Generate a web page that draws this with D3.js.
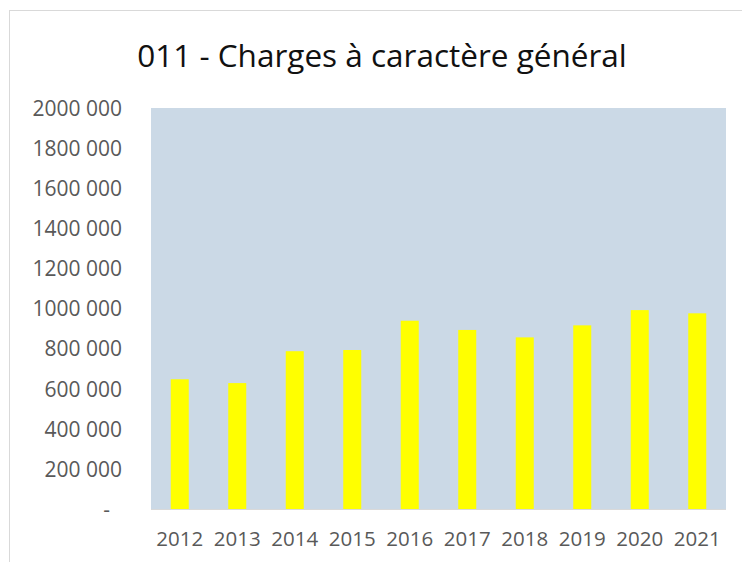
<!DOCTYPE html>
<html>
<head>
<meta charset="utf-8">
<script src="https://cdn.jsdelivr.net/npm/d3@7"></script>
<style>
  html, body { margin: 0; padding: 0; background: #fff; }
  svg { display: block; }
  text { font-family: "Open Sans", "Noto Sans", sans-serif; }
</style>
</head>
<body>
<svg id="chart" width="742" height="562"></svg>
<script>
const title = "011 - Charges à caractère général";
const years = ["2012","2013","2014","2015","2016","2017","2018","2019","2020","2021"];
const values = [647000, 628000, 787000, 793000, 939000, 893000, 856000, 916000, 992000, 976000];
const yTicks = [0, 200000, 400000, 600000, 800000, 1000000, 1200000, 1400000, 1600000, 1800000, 2000000];

const svg = d3.select("#chart");
const plot = {left: 151, top: 108, right: 726, bottom: 509};

// outer border
svg.append("rect")
  .attr("x", 9.5).attr("y", 10.5)
  .attr("width", 800).attr("height", 600)
  .attr("fill", "#fff").attr("stroke", "#d9d9d9").attr("stroke-width", 1);

// title
svg.append("text")
  .attr("x", 382).attr("y", 67)
  .attr("text-anchor", "middle")
  .attr("font-size", 31.5)
  .attr("fill", "#111")
  .text(title);

const x = d3.scaleBand().domain(years).range([plot.left, plot.right]).paddingInner(0.687).paddingOuter(0.3435);
const y = d3.scaleLinear().domain([0, 2000000]).range([plot.bottom, plot.top]);

// plot background
svg.append("rect")
  .attr("x", plot.left).attr("y", plot.top)
  .attr("width", plot.right - plot.left).attr("height", plot.bottom - plot.top)
  .attr("fill", "#cbd9e6");

// bars
svg.append("g").selectAll("rect").data(years).join("rect")
  .attr("x", d => x(d))
  .attr("width", x.bandwidth())
  .attr("y", (d, i) => y(values[i]))
  .attr("height", (d, i) => y(0) - y(values[i]))
  .attr("fill", "#ffff00");

// baseline
svg.append("line")
  .attr("x1", plot.left).attr("x2", plot.right)
  .attr("y1", y(0) + 0.5).attr("y2", y(0) + 0.5)
  .attr("stroke", "#d9d9d9").attr("stroke-width", 1);

// y axis
const fmt = v => v === 0 ? "-" : d3.format(",")(v).replace(/,(?=\d{3}$)/, " ").replace(/,/g, "");
const yAxis = d3.axisLeft(y).tickValues(yTicks).tickSize(0).tickPadding(0).tickFormat(fmt);
const gy = svg.append("g").attr("transform", "translate(122,0)").call(yAxis);
gy.select(".domain").remove();
gy.selectAll("text")
  .attr("font-size", 21).attr("fill", "#595959")
  .attr("font-family", "'Open Sans', sans-serif")
  .attr("dy", "0.35em")
  .attr("x", d => d === 0 ? -12 : 0);

// x axis
const xAxis = d3.axisBottom(x).tickSize(0).tickPadding(0);
const gx = svg.append("g").attr("transform", "translate(0,546)").call(xAxis);
gx.select(".domain").remove();
gx.selectAll("text")
  .attr("font-size", 20.5).attr("fill", "#595959")
  .attr("font-family", "'Open Sans', sans-serif")
  .attr("dy", 0).attr("y", 0);
</script>
</body>
</html>
